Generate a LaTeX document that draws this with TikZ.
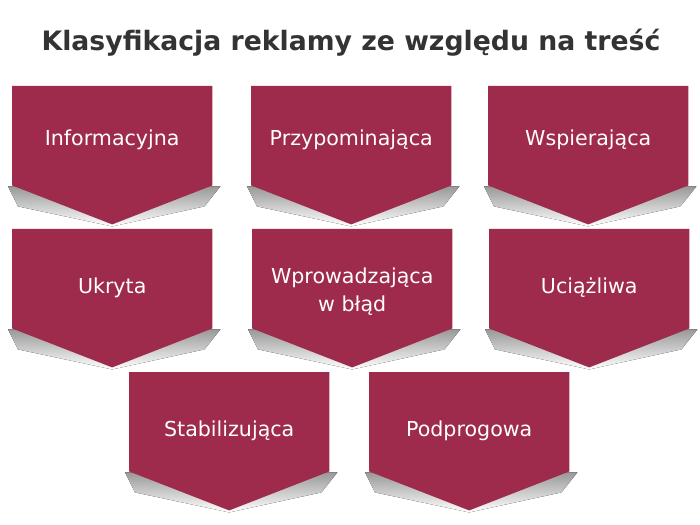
\documentclass[tikz,border=0pt]{standalone}
\usepackage{fontspec}
\setmainfont{DejaVu Sans}
\usetikzlibrary{calc,backgrounds}

\definecolor{maroon}{RGB}{158,43,75}
\definecolor{titlegray}{RGB}{51,51,51}

\tikzset{
    box/.style={text=white, minimum width=200bp, minimum height=99bp,
        inner sep=0pt, align=center, anchor=north west, font=\fontsize{20.6bp}{28bp}\selectfont,
        text height=30bp, text depth=0pt},
    toprow/.style={text height=19bp},
    chevron/.style={fill=maroon},
    shade/.style={top color=black!40, middle color=black!12, bottom color=white}
}

\newcommand{\pointdown}[1]{%
    \begin{scope}[on background layer]
        \fill[shade] ($(#1.south west)+(-4bp,-1bp)$) -- ($(#1.south east)+(8bp,-1bp)$)
            -- ($(#1.south east)+(-8bp,-21bp)$) -- ($(#1.south)+(0,-41bp)$)
            -- ($(#1.south west)+(6bp,-21bp)$) -- cycle;
        \fill[chevron] (#1.north west) -- (#1.north east) -- (#1.south east)
            -- ($(#1.south)+(0,-39bp)$) -- (#1.south west) -- cycle;
    \end{scope}}

\begin{document}
\begin{tikzpicture}[x=1bp, y=1bp]
    \useasboundingbox (0,0) rectangle (700,-525);

    \node (title) [text=titlegray, font=\fontsize{26.7bp}{30bp}\selectfont\bfseries] at (351,-43) {Klasyfikacja reklamy ze względu na treść};

    % first row
    \node (inf) [box, toprow] at (12,-86) {Informacyjna};
    \node (prz) [box, toprow] at (251,-86) {Przypominająca};
    \node (wsp) [box, toprow] at (488,-86) {Wspierająca};

    % second row
    \node (ukr) [box] at (12,-229) {Ukryta};
    \node (wpr) [box, text height=66bp, text depth=0bp] at (252,-229) {Wprowadzająca\\w błąd};
    \node (uci) [box] at (489,-229) {Uciążliwa};

    % third row
    \node (sta) [box] at (129,-372) {Stabilizująca};
    \node (pod) [box] at (369,-372) {Podprogowa};

    \foreach \n in {inf,prz,wsp,ukr,wpr,uci,sta,pod}
        {\pointdown{\n}}
\end{tikzpicture}
\end{document}
